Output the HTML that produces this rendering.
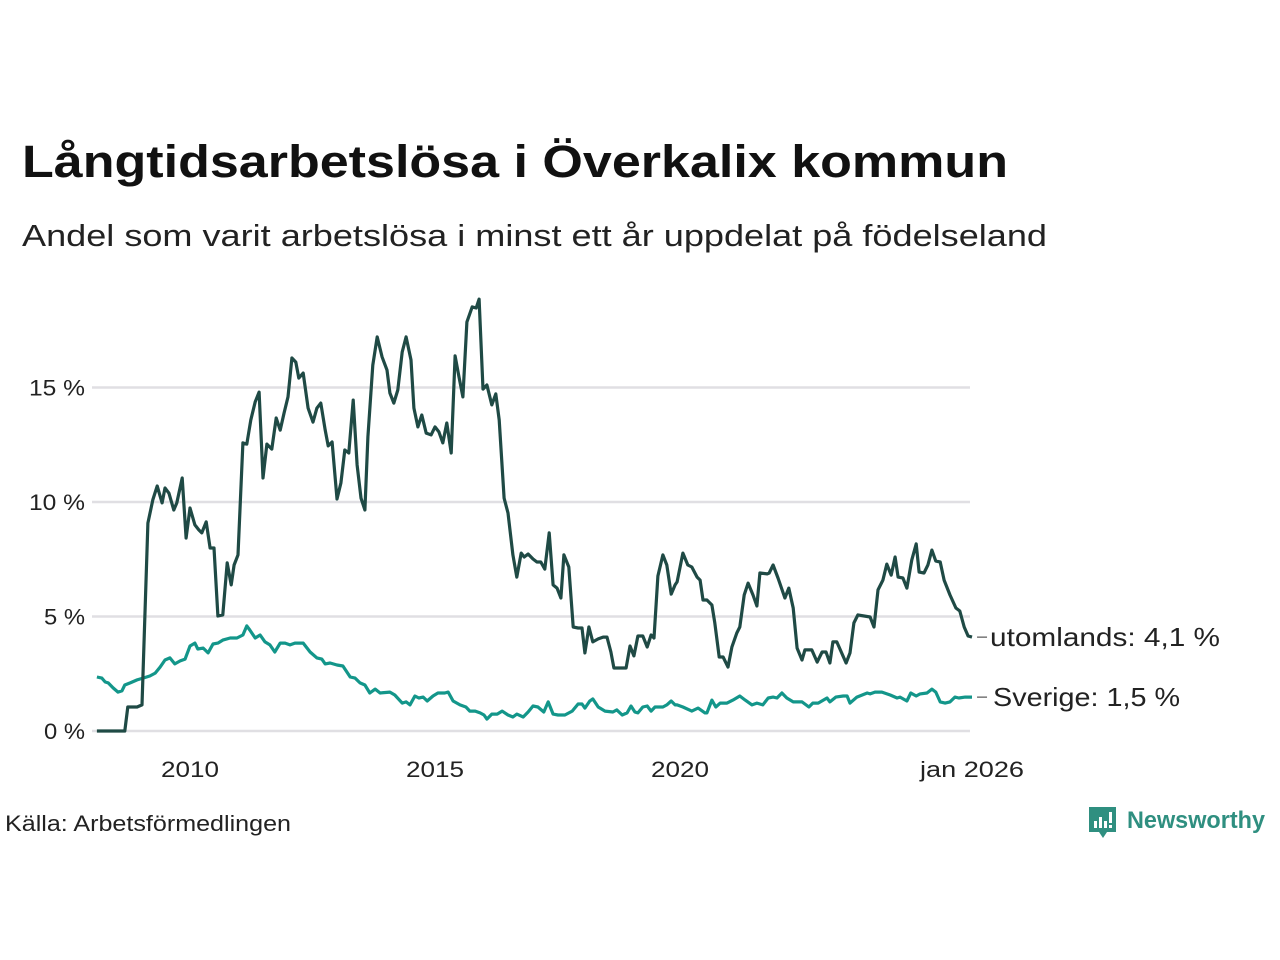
<!DOCTYPE html>
<html><head><meta charset="utf-8"><style>
html,body{margin:0;padding:0;background:#fff;width:1280px;height:960px;overflow:hidden}
svg{display:block;font-family:"Liberation Sans",sans-serif}
</style></head><body>
<svg id="chart" width="1280" height="960" viewBox="0 0 1280 960" xmlns="http://www.w3.org/2000/svg">
<text x="22" y="177" font-size="45" font-weight="bold" fill="#111" textLength="986" lengthAdjust="spacingAndGlyphs">Långtidsarbetslösa i Överkalix kommun</text>
<text x="22" y="246" font-size="31" fill="#222" textLength="1025" lengthAdjust="spacingAndGlyphs">Andel som varit arbetslösa i minst ett år uppdelat på födelseland</text>
<g id="grid"></g>
<g id="yaxis"></g>
<g id="xaxis"></g>
<g id="series"></g>
<g id="labels"></g>
<text x="5" y="831" font-size="22" fill="#222" textLength="286" lengthAdjust="spacingAndGlyphs">Källa: Arbetsförmedlingen</text>
<g>
<path d="M1089 807 h27 v25 h-9 l-4 6 l-4 -6 h-10 z" fill="#2f8f80"/>
<rect x="1094" y="821" width="3" height="7" fill="#fff"/><rect x="1099" y="817" width="3" height="11" fill="#fff"/><rect x="1104" y="821" width="3" height="7" fill="#fff"/><rect x="1109" y="812" width="3" height="11" fill="#fff"/><rect x="1109" y="825" width="3" height="3" fill="#fff"/>
<text x="1127" y="828" font-size="24" font-weight="bold" fill="#2f8f80" textLength="138" lengthAdjust="spacingAndGlyphs">Newsworthy</text>
</g>
</svg>
<script>
const yTicks=[0,5,10,15];
const yTickLabels=["0 %","5 %","10 %","15 %"];
const xTicks=[2010,2015,2020,2026];
const xTickLabels=["2010","2015","2020","jan 2026"];
const seriesNames=["utomlands","Sverige"];
const endLabels=["utomlands: 4,1 %","Sverige: 1,5 %"];
const utoDates=[2008.10,2008.67,2008.73,2008.92,2009.02,2009.14,2009.24,2009.33,2009.43,2009.49,2009.57,2009.67,2009.73,2009.84,2009.92,2010.00,2010.10,2010.18,2010.24,2010.33,2010.41,2010.49,2010.57,2010.67,2010.76,2010.84,2010.90,2010.98,2011.08,2011.16,2011.24,2011.33,2011.41,2011.49,2011.57,2011.67,2011.76,2011.84,2011.92,2012.00,2012.08,2012.16,2012.22,2012.31,2012.41,2012.51,2012.59,2012.67,2012.76,2012.82,2012.90,2013.00,2013.08,2013.16,2013.24,2013.33,2013.41,2013.49,2013.57,2013.63,2013.73,2013.82,2013.92,2014.02,2014.08,2014.16,2014.24,2014.33,2014.41,2014.51,2014.57,2014.65,2014.73,2014.82,2014.92,2015.00,2015.08,2015.16,2015.24,2015.33,2015.41,2015.49,2015.57,2015.65,2015.76,2015.84,2015.90,2015.98,2016.06,2016.16,2016.24,2016.31,2016.41,2016.49,2016.59,2016.67,2016.76,2016.82,2016.90,2017.00,2017.08,2017.16,2017.24,2017.33,2017.41,2017.49,2017.57,2017.63,2017.73,2017.82,2017.92,2018.00,2018.06,2018.14,2018.22,2018.33,2018.43,2018.51,2018.59,2018.65,2018.78,2018.90,2018.98,2019.06,2019.14,2019.24,2019.33,2019.41,2019.47,2019.55,2019.65,2019.73,2019.82,2019.90,2019.94,2020.06,2020.16,2020.24,2020.35,2020.41,2020.47,2020.55,2020.65,2020.71,2020.80,2020.88,2020.98,2021.06,2021.16,2021.22,2021.31,2021.39,2021.49,2021.57,2021.63,2021.78,2021.82,2021.90,2022.00,2022.14,2022.22,2022.31,2022.39,2022.49,2022.55,2022.69,2022.80,2022.90,2022.98,2023.06,2023.12,2023.20,2023.39,2023.47,2023.55,2023.63,2023.88,2023.96,2024.04,2024.14,2024.22,2024.31,2024.39,2024.45,2024.55,2024.63,2024.73,2024.82,2024.88,2024.98,2025.06,2025.14,2025.22,2025.31,2025.39,2025.51,2025.63,2025.71,2025.80,2025.88,2025.96];
const utoValues=[0,0,1.05,1.05,1.14,9.08,10.09,10.70,9.96,10.61,10.39,9.65,9.96,11.05,8.43,9.74,9.00,8.78,8.65,9.13,7.99,7.99,5.02,5.07,7.34,6.38,7.25,7.69,12.58,12.53,13.58,14.37,14.80,11.05,12.53,12.31,13.67,13.14,13.89,14.59,16.29,16.11,15.41,15.63,14.10,13.49,14.10,14.32,13.14,12.45,12.62,10.13,10.83,12.27,12.14,14.45,11.62,10.17,9.65,12.84,15.98,17.21,16.33,15.76,14.76,14.32,14.89,16.55,17.21,16.20,14.10,13.28,13.80,13.01,12.93,13.28,13.06,12.58,13.45,12.14,16.38,15.46,14.59,17.86,18.52,18.47,18.86,14.93,15.11,14.24,14.72,13.58,10.17,9.52,7.69,6.72,7.77,7.60,7.73,7.51,7.38,7.38,7.07,8.65,6.38,6.24,5.81,7.69,7.16,4.54,4.50,4.50,3.41,4.54,3.89,4.02,4.10,4.10,3.45,2.75,2.75,2.75,3.71,3.28,4.15,4.15,3.67,4.19,4.06,6.77,7.69,7.25,5.98,6.38,6.51,7.77,7.25,7.16,6.72,6.59,5.72,5.72,5.50,4.72,3.23,3.23,2.79,3.67,4.28,4.54,5.94,6.46,5.94,5.46,6.90,6.86,6.90,7.25,6.68,5.81,6.24,5.37,3.62,3.10,3.54,3.54,3.01,3.45,3.45,2.97,3.89,3.89,2.97,3.41,4.72,5.07,4.98,4.54,6.16,6.59,7.29,6.81,7.60,6.72,6.68,6.24,7.47,8.17,6.94,6.90,7.25,7.90,7.42,7.38,6.59,5.94,5.37,5.24,4.54,4.15,4.10];
const sveDates=[2008.10,2008.20,2008.27,2008.33,2008.43,2008.53,2008.61,2008.67,2008.78,2008.92,2009.04,2009.18,2009.29,2009.39,2009.49,2009.59,2009.69,2009.80,2009.90,2010.00,2010.10,2010.16,2010.27,2010.37,2010.47,2010.57,2010.67,2010.82,2010.96,2011.08,2011.16,2011.22,2011.33,2011.43,2011.53,2011.63,2011.73,2011.84,2011.94,2012.04,2012.14,2012.31,2012.45,2012.59,2012.69,2012.76,2012.86,2013.00,2013.12,2013.27,2013.37,2013.47,2013.57,2013.67,2013.78,2013.88,2014.08,2014.18,2014.33,2014.41,2014.49,2014.59,2014.67,2014.76,2014.84,2014.96,2015.06,2015.20,2015.27,2015.37,2015.51,2015.63,2015.71,2015.82,2015.92,2016.00,2016.06,2016.16,2016.27,2016.37,2016.49,2016.59,2016.67,2016.80,2016.90,2017.00,2017.10,2017.22,2017.31,2017.41,2017.51,2017.65,2017.80,2017.92,2018.00,2018.06,2018.16,2018.22,2018.33,2018.47,2018.63,2018.71,2018.82,2018.92,2019.00,2019.08,2019.14,2019.24,2019.33,2019.41,2019.49,2019.65,2019.73,2019.82,2019.90,2019.94,2020.06,2020.24,2020.37,2020.51,2020.55,2020.65,2020.73,2020.82,2020.96,2021.08,2021.22,2021.33,2021.47,2021.57,2021.69,2021.80,2021.90,2021.98,2022.08,2022.18,2022.31,2022.49,2022.63,2022.71,2022.82,2023.00,2023.06,2023.18,2023.33,2023.41,2023.47,2023.61,2023.82,2023.88,2023.98,2024.12,2024.29,2024.43,2024.49,2024.63,2024.71,2024.82,2024.90,2025.04,2025.14,2025.22,2025.31,2025.41,2025.51,2025.61,2025.69,2025.82,2025.96];
const sveValues=[2.36,2.31,2.14,2.10,1.88,1.70,1.75,2.01,2.10,2.23,2.31,2.40,2.53,2.79,3.10,3.19,2.93,3.06,3.14,3.71,3.84,3.58,3.62,3.41,3.80,3.84,3.97,4.06,4.06,4.19,4.59,4.41,4.06,4.19,3.89,3.76,3.45,3.84,3.84,3.76,3.84,3.84,3.45,3.19,3.14,2.93,2.97,2.88,2.84,2.36,2.31,2.10,2.01,1.66,1.83,1.66,1.70,1.57,1.22,1.27,1.14,1.53,1.44,1.48,1.31,1.53,1.66,1.66,1.70,1.31,1.14,1.05,0.87,0.87,0.79,0.70,0.52,0.74,0.74,0.87,0.70,0.61,0.74,0.61,0.83,1.09,1.05,0.83,1.27,0.74,0.70,0.70,0.87,1.18,1.18,1.00,1.31,1.40,1.05,0.87,0.83,0.92,0.70,0.79,1.09,0.83,0.79,1.05,1.09,0.87,1.05,1.05,1.14,1.31,1.14,1.14,1.05,0.87,1.00,0.79,0.79,1.35,1.05,1.22,1.22,1.35,1.53,1.35,1.14,1.22,1.14,1.44,1.48,1.44,1.66,1.44,1.27,1.27,1.05,1.22,1.22,1.44,1.27,1.48,1.53,1.53,1.22,1.48,1.66,1.62,1.70,1.70,1.57,1.44,1.48,1.31,1.66,1.53,1.62,1.66,1.83,1.70,1.27,1.22,1.27,1.48,1.44,1.48,1.48];

const NS="http://www.w3.org/2000/svg";
function x(d){return 190+(d-2010)*49;}
function y(v){return 731-v*22.9;}
function mk(tag,attrs,parent){const e=document.createElementNS(NS,tag);for(const k in attrs)e.setAttribute(k,attrs[k]);parent.appendChild(e);return e;}
const grid=document.getElementById('grid'),ya=document.getElementById('yaxis'),xa=document.getElementById('xaxis'),ser=document.getElementById('series'),lab=document.getElementById('labels');
yTicks.forEach((t,i)=>{
  const l=mk('line',{x1:92,x2:970,y1:y(t),y2:y(t),stroke:'#e0dfe3','stroke-width':2.5},grid);
  
  
  const w=yTickLabels[i].length>3?56:41;
  const tx=mk('text',{x:85-w,y:y(t)+8,'font-size':22,fill:'#222',textLength:w,lengthAdjust:'spacingAndGlyphs'},ya);
  tx.textContent=yTickLabels[i];
  
  
});
xTicks.forEach((t,i)=>{
  const w=i===3?104:58;
  const cx=i===3?972:x(t);
  const tx=mk('text',{x:cx-w/2,y:777,'font-size':22,fill:'#222',textLength:w,lengthAdjust:'spacingAndGlyphs'},xa);
  tx.textContent=xTickLabels[i];
  
  
});
function line(dates,vals,color,name){
  const p=mk('path',{d:dates.map((d,i)=>(i?'L':'M')+x(d).toFixed(1)+' '+y(vals[i]).toFixed(1)).join(' '),fill:'none',stroke:color,'stroke-width':3.2,'stroke-linejoin':'round'},ser);
  
  
}
line(sveDates,sveValues,'#13968a','line-sverige');
line(utoDates,utoValues,'#1f4a45','line-utomlands');
const ends=[[utoDates,utoValues],[sveDates,sveValues]];
const endWidths=[230,187];
ends.forEach((s,i)=>{
  const d=s[0][s[0].length-1],v=s[1][s[1].length-1];
  mk('line',{x1:x(d)+5,x2:x(d)+15,y1:y(v),y2:y(v),stroke:'#333','stroke-width':1},lab);
  const tx=mk('text',{x:x(d)+18+(i?3:0),y:y(v)+9,'font-size':26,fill:'#222',textLength:endWidths[i],lengthAdjust:'spacingAndGlyphs'},lab);
  tx.textContent=endLabels[i];
  
  
});
</script>
</body></html>
